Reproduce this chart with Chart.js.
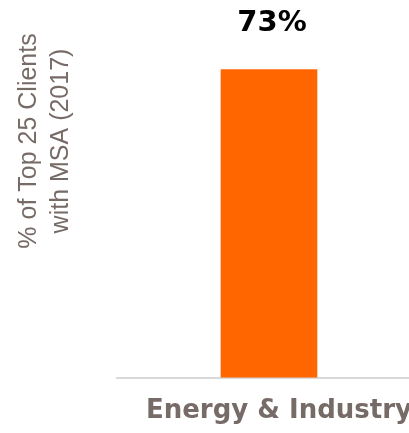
<!DOCTYPE html>
<html>
<head>
<meta charset="utf-8">
<script src="https://cdn.jsdelivr.net/npm/chart.js@4/dist/chart.umd.min.js"></script>
<style>
  html, body { margin: 0; padding: 0; background: #FFFFFF; overflow: hidden; }
  #wrap { width: 424px; height: 433px; overflow: hidden; }
</style>
</head>
<body>
<div id="wrap"><canvas id="chart" width="424" height="445"></canvas></div>
<script>
const categories = ["Energy & Industry"];
const shareValues = [73];
const yTitleLines = ["% of Top 25 Clients", "with MSA (2017)"];

const orange = "#FF6600";
const grayText = "#776B67";

// value label above the bar
const barValueLabelsPlugin = {
  id: "barValueLabels",
  afterDatasetsDraw(chart) {
    const meta = chart.getDatasetMeta(0);
    const { ctx } = chart;
    ctx.save();
    ctx.fillStyle = "#000000";
    ctx.font = 'bold 29px "DejaVu Sans", sans-serif';
    ctx.textAlign = "center";
    ctx.textBaseline = "alphabetic";
    meta.data.forEach((bar, index) => {
      ctx.fillText(`${shareValues[index]}%`, bar.x + 3, bar.y - 39);
    });
    ctx.restore();
  },
};

// rotated two-line title on the left
const sideTitlePlugin = {
  id: "sideTitle",
  afterDraw(chart) {
    const { ctx } = chart;
    ctx.save();
    ctx.fillStyle = grayText;
    ctx.font = '25px "Liberation Sans", Arial, sans-serif';
    ctx.textAlign = "center";
    ctx.textBaseline = "alphabetic";
    ctx.translate(0, 141);
    ctx.rotate(-Math.PI / 2);
    yTitleLines.forEach((line, i) => {
      ctx.fillText(line, 0, 35.5 + i * 32);
    });
    ctx.restore();
  },
};

new Chart(document.getElementById("chart"), {
  type: "bar",
  plugins: [barValueLabelsPlugin, sideTitlePlugin],
  data: {
    labels: categories,
    datasets: [
      {
        data: shareValues,
        backgroundColor: orange,
        borderWidth: 0,
        barThickness: 96,
      },
    ],
  },
  options: {
    responsive: false,
    animation: false,
    layout: {
      padding: { top: 40, left: 117, right: 0, bottom: 0 },
    },
    plugins: {
      legend: { display: false },
      tooltip: { enabled: false },
    },
    scales: {
      x: {
        grid: { display: false, drawTicks: false },
        border: { display: true, color: "#D9D9D9", width: 2 },
        ticks: {
          color: grayText,
          font: { family: '"DejaVu Sans", sans-serif', size: 26, weight: "bold", lineHeight: 0.9 },
          padding: 22,
          labelOffset: 10,
          maxRotation: 0,
        },
      },
      y: {
        display: false,
        min: 0,
        max: 80,
      },
    },
  },
});
</script>
</body>
</html>
